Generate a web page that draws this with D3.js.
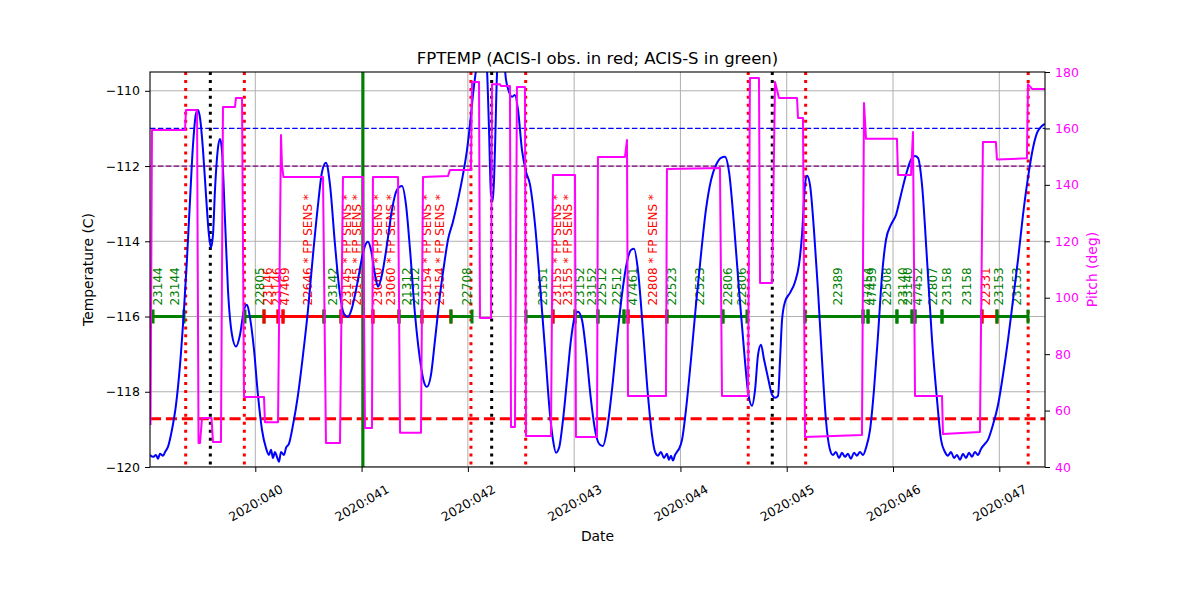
<!DOCTYPE html>
<html><head><meta charset="utf-8">
<script src="https://cdn.jsdelivr.net/npm/d3@7"></script>
<style>body{margin:0;background:#fff} text{font-family:"DejaVu Sans",sans-serif}</style>
</head><body><svg id="c" width="1200" height="600"></svg>
<script>
// ---- data (day-of-year 2020) ----
const fptemp = [
[39.009,-119.68],[39.038,-119.73],[39.066,-119.68],[39.085,-119.78],[39.103,-119.65],[39.132,-119.70],[39.151,-119.60],
[39.179,-119.46],[39.216,-119.01],[39.254,-118.35],[39.292,-117.28],[39.329,-115.82],[39.357,-114.49],[39.386,-112.90],
[39.414,-111.44],[39.442,-110.61],[39.461,-110.51],[39.480,-110.72],[39.508,-111.57],[39.536,-112.76],[39.564,-113.83],
[39.583,-114.17],[39.602,-113.83],[39.621,-112.63],[39.649,-111.52],[39.668,-111.28],[39.686,-111.57],[39.715,-113.43],
[39.743,-115.29],[39.781,-116.49],[39.818,-116.80],[39.856,-116.49],[39.894,-115.82],[39.922,-115.69],[39.950,-116.03],
[39.988,-116.88],[40.025,-118.08],[40.063,-119.01],[40.100,-119.49],[40.129,-119.68],[40.148,-119.54],[40.166,-119.76],
[40.185,-119.60],[40.204,-119.73],[40.223,-119.86],[40.242,-119.60],[40.270,-119.68],[40.289,-119.49],[40.317,-119.38],
[40.355,-118.88],[40.402,-118.08],[40.449,-117.02],[40.496,-115.82],[40.543,-114.36],[40.590,-113.03],[40.628,-112.15],
[40.665,-111.91],[40.703,-112.50],[40.750,-114.09],[40.797,-115.42],[40.834,-115.93],[40.872,-116.01],[40.910,-115.77],
[40.957,-115.16],[41.004,-114.44],[41.032,-114.12],[41.060,-114.01],[41.089,-114.23],[41.126,-114.89],[41.155,-115.21],
[41.192,-114.89],[41.239,-114.09],[41.286,-113.16],[41.333,-112.63],[41.380,-112.53],[41.418,-113.03],[41.456,-114.23],
[41.503,-115.95],[41.550,-117.15],[41.587,-117.74],[41.615,-117.87],[41.653,-117.55],[41.691,-116.62],[41.738,-115.42],
[41.776,-114.63],[41.813,-113.96],[41.860,-113.48],[41.907,-112.90],[41.954,-112.23],[41.992,-111.57],[42.020,-110.90],
[42.048,-110.11],[42.077,-109.44],[42.114,-108.78],[42.152,-108.78],[42.180,-109.44],[42.199,-111.04],[42.218,-112.76],
[42.237,-112.90],[42.255,-111.57],[42.274,-109.57],[42.302,-108.78],[42.330,-108.91],[42.359,-109.71],[42.387,-110.03],
[42.415,-110.16],[42.443,-110.11],[42.472,-110.51],[42.509,-111.57],[42.547,-112.15],[42.585,-112.50],[42.632,-113.56],
[42.679,-115.16],[42.726,-116.88],[42.773,-118.61],[42.801,-119.28],[42.829,-119.62],[42.858,-119.49],[42.895,-118.75],
[42.933,-117.68],[42.970,-116.62],[43.008,-115.98],[43.036,-115.87],[43.074,-116.09],[43.111,-116.88],[43.158,-118.21],
[43.205,-119.14],[43.243,-119.41],[43.271,-119.44],[43.309,-119.01],[43.356,-117.95],[43.403,-116.62],[43.450,-115.42],
[43.497,-114.55],[43.535,-114.23],[43.563,-114.20],[43.600,-114.76],[43.647,-116.35],[43.694,-118.08],[43.732,-119.14],
[43.761,-119.60],[43.789,-119.70],[43.817,-119.60],[43.845,-119.76],[43.873,-119.65],[43.892,-119.81],[43.911,-119.70],
[43.930,-119.83],[43.949,-119.68],[43.967,-119.60],[43.986,-119.52],[44.015,-119.28],[44.052,-118.48],[44.099,-117.15],
[44.146,-115.69],[44.193,-114.36],[44.240,-113.16],[44.288,-112.37],[44.335,-111.97],[44.382,-111.78],[44.419,-111.75],
[44.457,-112.15],[44.504,-113.56],[44.551,-115.29],[44.598,-116.88],[44.636,-118.00],[44.673,-118.37],[44.702,-117.95],
[44.730,-117.02],[44.758,-116.75],[44.787,-117.15],[44.824,-117.63],[44.862,-118.08],[44.890,-118.16],[44.918,-118.11],
[44.937,-117.15],[44.956,-116.09],[44.984,-115.61],[45.031,-115.37],[45.078,-115.08],[45.115,-114.63],[45.144,-113.83],
[45.172,-112.50],[45.191,-112.26],[45.219,-112.50],[45.256,-113.69],[45.294,-115.29],[45.332,-117.15],[45.369,-118.75],
[45.407,-119.54],[45.435,-119.68],[45.463,-119.60],[45.492,-119.76],[45.520,-119.62],[45.548,-119.73],[45.576,-119.65],
[45.604,-119.78],[45.633,-119.62],[45.661,-119.70],[45.689,-119.60],[45.718,-119.68],[45.746,-119.49],[45.784,-119.01],
[45.821,-117.95],[45.859,-116.49],[45.897,-114.89],[45.934,-113.96],[45.981,-113.56],[46.028,-113.30],[46.075,-112.76],
[46.122,-112.23],[46.169,-111.83],[46.207,-111.73],[46.235,-111.78],[46.273,-112.50],[46.320,-114.49],[46.367,-116.62],
[46.414,-118.21],[46.452,-119.28],[46.489,-119.60],[46.517,-119.70],[46.546,-119.60],[46.574,-119.76],[46.602,-119.68],
[46.630,-119.81],[46.658,-119.65],[46.687,-119.76],[46.715,-119.62],[46.743,-119.73],[46.771,-119.60],[46.799,-119.68],
[46.828,-119.52],[46.856,-119.41],[46.893,-119.28],[46.940,-118.88],[46.988,-118.35],[47.035,-117.55],[47.082,-116.62],
[47.129,-115.56],[47.176,-114.49],[47.223,-113.30],[47.270,-112.31],[47.317,-111.52],[47.355,-111.12],[47.392,-110.96],
[47.430,-110.88]];

const pitch = [
[39.014,54.9],[39.028,159.4],[39.339,159.4],[39.348,166.5],[39.452,166.5],[39.466,48.5],[39.480,48.5],[39.499,57.4],
[39.588,57.4],[39.602,48.9],[39.677,48.9],[39.696,167.6],[39.809,167.6],[39.818,170.8],[39.875,170.8],[39.894,64.8],
[40.082,64.8],[40.091,55.9],[40.214,55.9],[40.242,157.7],[40.251,147.0],[40.265,142.8],[40.637,142.8],[40.665,48.5],
[40.797,48.5],[40.825,142.8],[41.013,142.8],[41.032,53.8],[41.098,53.8],[41.107,142.8],[41.343,142.8],[41.362,52.1],
[41.559,52.1],[41.578,142.8],[41.813,143.1],[41.832,145.3],[42.029,145.3],[42.039,176.5],[42.105,176.5],[42.114,92.8],
[42.218,92.8],[42.227,175.7],[42.302,175.7],[42.312,175.0],[42.396,175.0],[42.406,54.2],[42.443,54.2],[42.462,174.7],
[42.537,174.7],[42.547,51.0],[42.782,51.0],[42.801,143.5],[43.008,143.5],[43.017,50.6],[43.215,50.6],[43.224,149.9],
[43.478,149.9],[43.497,155.9],[43.507,65.2],[43.864,65.2],[43.873,145.6],[44.372,146.0],[44.391,65.2],[44.636,65.2],
[44.654,177.9],[44.739,177.9],[44.749,105.2],[44.862,105.2],[44.890,176.5],[44.927,170.8],[45.097,170.8],[45.106,163.7],
[45.153,163.7],[45.172,50.6],[45.708,51.3],[45.727,169.0],[45.746,156.3],[46.037,156.3],[46.047,143.5],[46.169,143.5],
[46.188,158.7],[46.207,65.2],[46.461,65.2],[46.470,51.7],[46.818,52.4],[46.846,155.2],[46.968,155.2],[46.978,149.0],
[47.260,149.4],[47.270,175.7],[47.308,174.0],[47.430,174.0]];

// observations: [start, stop, instrument]
const obsSegments = [
[39.038,39.329,"S"],[39.903,40.082,"S"],[40.082,40.214,"I"],[40.214,40.261,"I"],[40.261,40.646,"I"],
[40.646,40.806,"S"],[40.806,41.107,"I"],[41.107,41.352,"I"],[41.352,41.568,"S"],[41.568,41.841,"I"],
[41.841,42.039,"S"],[42.547,42.801,"S"],[42.801,43.008,"I"],[43.008,43.224,"S"],[43.224,43.469,"S"],
[43.469,43.507,"S"],[43.507,43.873,"I"],[43.873,44.400,"S"],[44.400,44.626,"S"],[45.172,45.718,"S"],
[45.718,45.765,"S"],[45.765,46.037,"S"],[46.037,46.179,"S"],[46.179,46.207,"S"],[46.207,46.461,"S"],
[46.461,46.837,"S"],[46.837,46.978,"I"],[46.978,47.270,"S"]];

const obsLabelTimes = [39.085,39.245,40.044,40.120,40.204,40.280,40.496,40.731,40.863,40.957,41.155,41.277,41.427,41.503,
41.615,41.738,41.992,42.707,42.839,42.942,43.055,43.168,43.262,43.403,43.553,43.742,43.921,44.184,44.447,44.579,
45.482,45.765,45.802,45.943,46.094,46.141,46.235,46.376,46.508,46.696,46.875,46.997,47.166];
const obsLabelTexts = ["23144","23144","22805","23146","23146","47469","22646 * FP SENS *","23142","23145 * FP SENS *",
"23145 * FP SENS *","23060 * FP SENS *","23060 * FP SENS *","21312","21312","23154 * FP SENS *","23154 * FP SENS *",
"22708","23151","23155 * FP SENS *","23155 * FP SENS *","23152","23152","22512","22512","47461","22808 * FP SENS *",
"22523","22523","22806","22806","22389","47454","47459","22508","23140","23140","47452","22807","23158","23158",
"22331","23153","23153"];
const obsLabelInst = ["S","S","S","I","I","I","I","S","I","I","I","I","S","S","I","I","S","S","I","I","S","S","S","S",
"S","I","S","S","S","S","S","S","S","S","S","S","S","S","S","S","I","S","S"];

const redDottedTimes = [39.345,39.897,42.029,42.544,44.638,45.178,47.272];
const blackDottedTimes = [39.577,42.224,44.864];
const greenSolidTimes = [41.013];
const planningLimit = -111.0, yellowLimit = -112.0, acisILimit = -118.72, obsLevel = -116.0;

const dayTicks = [40,41,42,43,44,45,46,47];
const tempTicks = [-120,-118,-116,-114,-112,-110];
const pitchTicks = [40,60,80,100,120,140,160,180];

// ---- chart ----
const L=150,R=1045,T=72,B=467;
const svg = d3.select("#c");
svg.append("rect").attr("width",1200).attr("height",600).attr("fill","#fff");
const x = d3.scaleLinear().domain([39.0094,47.430]).range([L,R]);
const yT = d3.scaleLinear().domain([-120,-109.5]).range([B,T]);
const yP = d3.scaleLinear().domain([40,180]).range([B,T]);

svg.append("clipPath").attr("id","clip").append("rect").attr("x",L).attr("y",T).attr("width",R-L).attr("height",B-T);
const g = svg.append("g").attr("clip-path","url(#clip)");

// grid
g.selectAll(".gx").data(dayTicks).join("line").attr("x1",d=>x(d)).attr("x2",d=>x(d)).attr("y1",T).attr("y2",B)
 .attr("stroke","#b0b0b0").attr("stroke-width",1);
g.selectAll(".gy").data(tempTicks).join("line").attr("y1",d=>yT(d)).attr("y2",d=>yT(d)).attr("x1",L).attr("x2",R)
 .attr("stroke","#b0b0b0").attr("stroke-width",1);

// horizontal limits
g.append("line").attr("x1",L).attr("x2",R).attr("y1",yT(planningLimit)).attr("y2",yT(planningLimit))
 .attr("stroke","#0000ff").attr("stroke-width",1.3).attr("stroke-dasharray","5.5,2.4");
g.append("line").attr("x1",L).attr("x2",R).attr("y1",yT(yellowLimit)).attr("y2",yT(yellowLimit))
 .attr("stroke","#800080").attr("stroke-width",1.3).attr("stroke-dasharray","5.5,2.4");
g.append("line").attr("x1",L).attr("x2",R).attr("y1",yT(acisILimit)).attr("y2",yT(acisILimit))
 .attr("stroke","#ff0000").attr("stroke-width",3).attr("stroke-dasharray","11.1,4.8");

// vertical lines
g.selectAll(".rd").data(redDottedTimes).join("line").attr("x1",d=>x(d)).attr("x2",d=>x(d)).attr("y1",T).attr("y2",B)
 .attr("stroke","#ff0000").attr("stroke-width",3).attr("stroke-dasharray","3,4.95");
g.selectAll(".bd").data(blackDottedTimes).join("line").attr("x1",d=>x(d)).attr("x2",d=>x(d)).attr("y1",T).attr("y2",B)
 .attr("stroke","#000").attr("stroke-width",3).attr("stroke-dasharray","3,4.95");
g.selectAll(".gs").data(greenSolidTimes).join("line").attr("x1",d=>x(d)).attr("x2",d=>x(d)).attr("y1",T).attr("y2",B)
 .attr("stroke","#008000").attr("stroke-width",3);

// observations
const instColor = s => s==="I" ? "#ff0000" : "#008000";
const yo = yT(obsLevel);
obsSegments.forEach(o=>{
  const c = instColor(o[2]);
  g.append("line").attr("x1",x(o[0])).attr("x2",x(o[1])).attr("y1",yo).attr("y2",yo).attr("stroke",c).attr("stroke-width",3);
  [o[0],o[1]].forEach(t=>g.append("line").attr("x1",x(t)).attr("x2",x(t)).attr("y1",yo-7).attr("y2",yo+7)
     .attr("stroke",c).attr("stroke-width",3));
});
obsLabelTimes.forEach((t,i)=>{
  g.append("text").attr("transform",`translate(${x(t)},${yo-11}) rotate(-90)`).attr("dy","0.35em")
   .attr("font-size",12).attr("fill",instColor(obsLabelInst[i])).text(obsLabelTexts[i]);
});

// temperature
g.append("path").datum(fptemp).attr("fill","none").attr("stroke","#0000ff").attr("stroke-width",2)
 .attr("stroke-linejoin","round").attr("d",d3.line().curve(d3.curveMonotoneX).x(d=>x(d[0])).y(d=>yT(d[1])));
// pitch
g.append("path").datum(pitch).attr("fill","none").attr("stroke","#ff00ff").attr("stroke-width",2)
 .attr("stroke-linejoin","round").attr("d",d3.line().x(d=>x(d[0])).y(d=>yP(d[1])));

// frame
svg.append("rect").attr("x",L).attr("y",T).attr("width",R-L).attr("height",B-T).attr("fill","none").attr("stroke","#000").attr("stroke-width",1.1);

// axes
const minor = d3.range(39.25,47.43,0.25).filter(d=>Math.abs(d-Math.round(d))>1e-6);
const ax = svg.append("g").attr("transform",`translate(0,${B})`);
ax.call(d3.axisBottom(x).tickValues(minor).tickSize(3).tickFormat(""));
ax.call(d3.axisBottom(x).tickValues(dayTicks).tickSize(5).tickFormat(d=>"2020:0"+d));
ax.select(".domain").remove();
ax.selectAll("text").attr("font-size",12.5).attr("fill","#000").attr("y",0).attr("dy","0.35em")
  .attr("text-anchor","middle").attr("transform","translate(0,36) rotate(-30)");
ax.selectAll("line").attr("stroke","#000").attr("stroke-width",1);

const ayl = svg.append("g").attr("transform",`translate(${L},0)`)
  .call(d3.axisLeft(yT).tickValues(tempTicks).tickSize(5).tickPadding(5));
ayl.select(".domain").remove();
ayl.selectAll("text").attr("font-size",12.5).attr("fill","#000");
ayl.selectAll("line").attr("stroke","#000");

const ayr = svg.append("g").attr("transform",`translate(${R},0)`)
  .call(d3.axisRight(yP).tickValues(pitchTicks).tickSize(5).tickPadding(5));
ayr.select(".domain").remove();
ayr.selectAll("text").attr("font-size",12.5).attr("fill","#ff00ff");
ayr.selectAll("line").attr("stroke","#000");

// titles
svg.append("text").attr("x",(L+R)/2).attr("y",64).attr("text-anchor","middle").attr("font-size",16.5)
  .text("FPTEMP (ACIS-I obs. in red; ACIS-S in green)");
svg.append("text").attr("x",(L+R)/2).attr("y",541).attr("text-anchor","middle").attr("font-size",13.9).text("Date");
svg.append("text").attr("transform",`translate(88,${(T+B)/2}) rotate(-90)`).attr("dy","0.35em").attr("text-anchor","middle")
  .attr("font-size",13.9).text("Temperature (C)");
svg.append("text").attr("transform",`translate(1092,${(T+B)/2}) rotate(-90)`).attr("dy","0.35em").attr("text-anchor","middle")
  .attr("font-size",13.9).attr("fill","#ff00ff").text("Pitch (deg)");
</script></body></html>
